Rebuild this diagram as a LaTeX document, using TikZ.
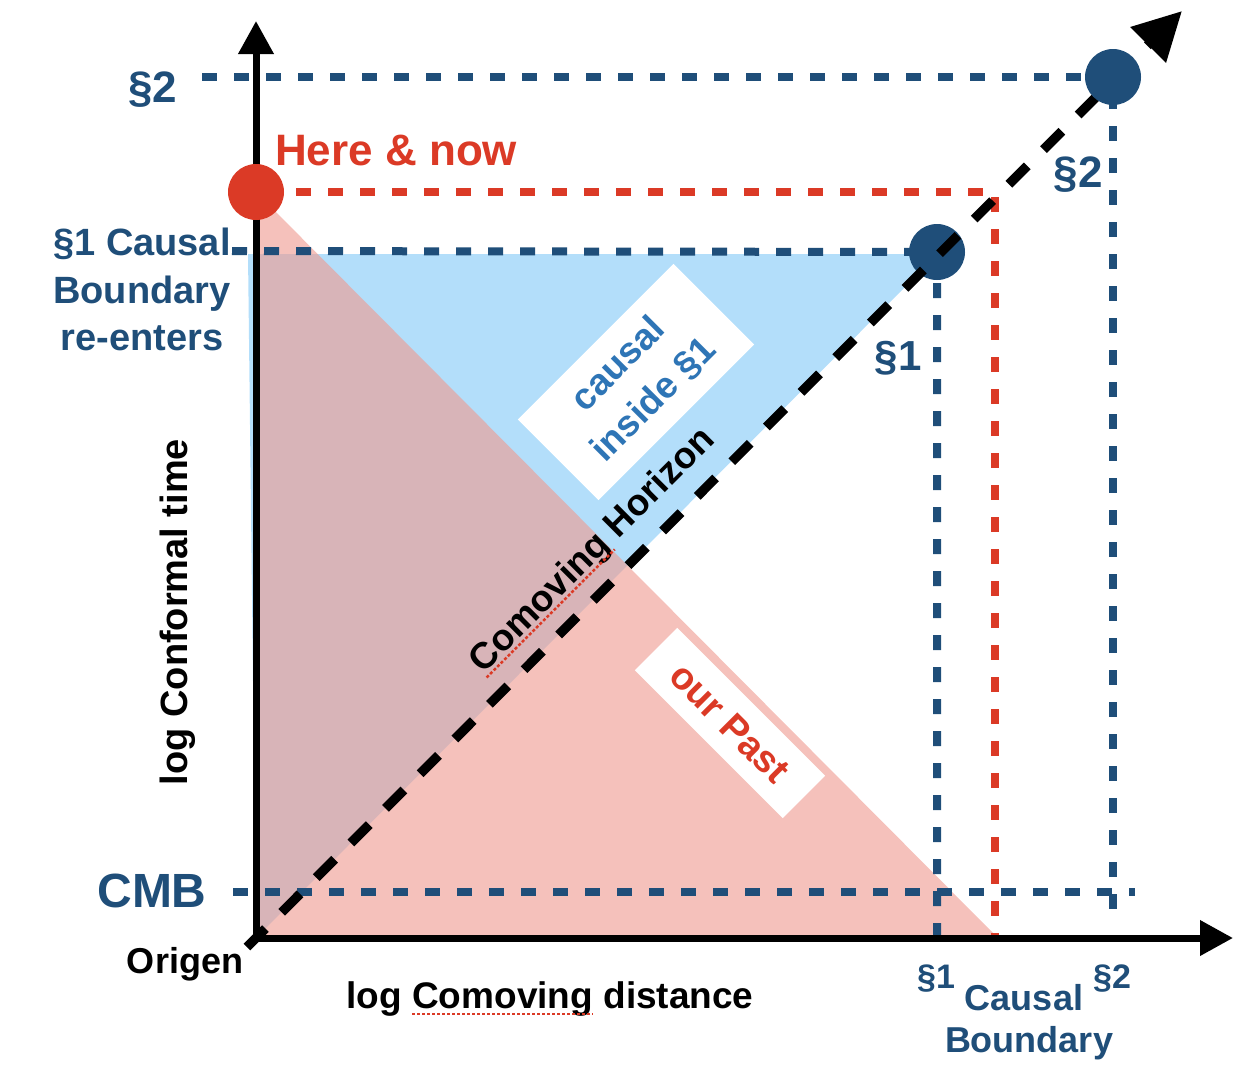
\documentclass[tikz,border=0pt]{standalone}
\usepackage{fontspec}
\setmainfont{Liberation Sans}
\usetikzlibrary{arrows.meta,calc}
\definecolor{dblue}{RGB}{31,78,121}
\definecolor{dred}{RGB}{219,58,38}
\definecolor{lblue}{RGB}{179,222,250}
\definecolor{pastred}{RGB}{239,157,147}
\definecolor{tblue}{RGB}{46,117,182}
\newcommand{\fsz}[2]{\fontsize{#1}{#2}\selectfont}
\begin{document}
\begin{tikzpicture}[x=1pt,y=-1pt,
  bluedash/.style={dblue, line width=8pt, dash pattern=on 15pt off 17pt},
  reddash/.style={dred, line width=8pt, dash pattern=on 15pt off 17pt},
  lbl/.style={inner sep=0pt, anchor=base},
  dot/.style={circle, minimum size=56pt, inner sep=0pt},
  spell/.style={dred, line width=2.5pt, dash pattern=on 3pt off 2pt},
  whitebox/.style={fill=white, inner sep=0pt, align=center}]
\useasboundingbox (0,0) rectangle (1258,1080);
% key points
\coordinate (O) at (256,938);
\coordinate (Ytip) at (256,21);
\coordinate (Xtip) at (1233,938);
\coordinate (D0) at (247,947);
\coordinate (D1) at (1182,11);
\coordinate (H) at (256,192);
\coordinate (S1) at (937,252);
\coordinate (S2) at (1113,77);
\coordinate (s2L) at (202,77);
\coordinate (s2B) at (1113,922);
\coordinate (s1L) at (232,251);
\coordinate (s1B) at (937,936);
\coordinate (cmbL) at (233,892);
\coordinate (cmbR) at (1135,892);
\coordinate (rL) at (296,192);
\coordinate (rC) at (995,192);
\coordinate (rB) at (995,938);
% regions
\fill[lblue] (248,254) -- (938,254) -- (O) -- cycle;
\fill[pastred, fill opacity=0.632] (H) -- (O) -- (998,938) -- cycle;
% dashed guides
\draw[bluedash] (s2L) -- (S2) -- (s2B);
\draw[bluedash] (s1L) -- (S1) -- (s1B);
\draw[bluedash] (cmbL) -- (cmbR);
\draw[reddash] (rL) -- (rC) -- (rB);
% axes
\draw[line width=7pt, line join=miter,
  {Triangle[width=34pt,length=33pt]}-{Triangle[width=34pt,length=33pt]}]
  (Ytip) -- (O) -- (Xtip);
% dots
\node[dot, fill=dred] (here) at (H) {};
\node[dot, fill=dblue] (s1dot) at (S1) {};
% comoving horizon
\draw[line width=9.5pt, dash pattern=on 26pt off 23pt,
  -{Triangle[width=48pt,length=48pt]}] (D0) -- (D1);
\node[dot, fill=dblue] (s2dot) at (S2) {};
% boxes
\node[whitebox, rotate=45, minimum width=220pt, minimum height=114pt,
  text=tblue, font={\bfseries\fsz{37}{50}}] (causal) at (636,382) {causal\\inside §1};
\node[whitebox, rotate=-45, minimum width=209pt, minimum height=60pt,
  text=dred, font={\bfseries\fsz{38}{46}}] (past) at (730,723) {our Past};
% labels
\node[lbl, text=dblue, font={\bfseries\fsz{44}{53}}] (s2top) at (153,102) {§2};
\node[lbl, anchor=base west, text=dred, font={\bfseries\fsz{44}{53}}] (herelbl) at (275,165) {Here \& now};
\node[lbl, text=dblue, font={\bfseries\fsz{38}{46}}] (s1a) at (142,255) {§1 Causal};
\node[lbl, text=dblue, font={\bfseries\fsz{38}{46}}] (s1b) at (142,303) {Boundary};
\node[lbl, text=dblue, font={\bfseries\fsz{38}{46}}] (s1c) at (142,350) {re-enters};
\node[lbl, rotate=90, font={\bfseries\fsz{38}{46}}] (ylab) at (187,612) {log Conformal time};
\node[lbl, text=dblue, font={\bfseries\fsz{48}{57}}] (cmb) at (152,907) {CMB};
\node[lbl, font={\bfseries\fsz{36}{44}}] (orig) at (185,973) {Origen};
\node[lbl, font={\bfseries\fsz{37}{44}}] (xlab) at (550,1008) {log Comoving distance};
\node[lbl, text=dblue, font={\bfseries\fsz{42}{50}}] (s1diag) at (898,370) {§1};
\node[lbl, text=dblue, font={\bfseries\fsz{44}{53}}] (s2diag) at (1078,187) {§2};
\node[lbl, text=dblue, font={\bfseries\fsz{34}{40}}] (s1bot) at (936,988) {§1};
\node[lbl, text=dblue, font={\bfseries\fsz{34}{40}}] (s2bot) at (1112,988) {§2};
\node[lbl, text=dblue, font={\bfseries\fsz{36}{44}}] (cb1) at (1024,1010) {Causal};
\node[lbl, text=dblue, font={\bfseries\fsz{36}{44}}] (cb2) at (1029,1052) {Boundary};
\node[lbl, rotate=45, font={\bfseries\fsz{37}{44}}] (horiz) at (600,558) {Comoving Horizon};
% spell-check underlines
\draw[spell] ($(horiz.base west)+(3,3)$) -- ($(horiz.base west)!0.55!(horiz.base east)+(3,3)$);
\draw[spell] ($(xlab.base west)+(66,6)$) -- ($(xlab.base west)+(247,6)$);
\end{tikzpicture}
\end{document}
